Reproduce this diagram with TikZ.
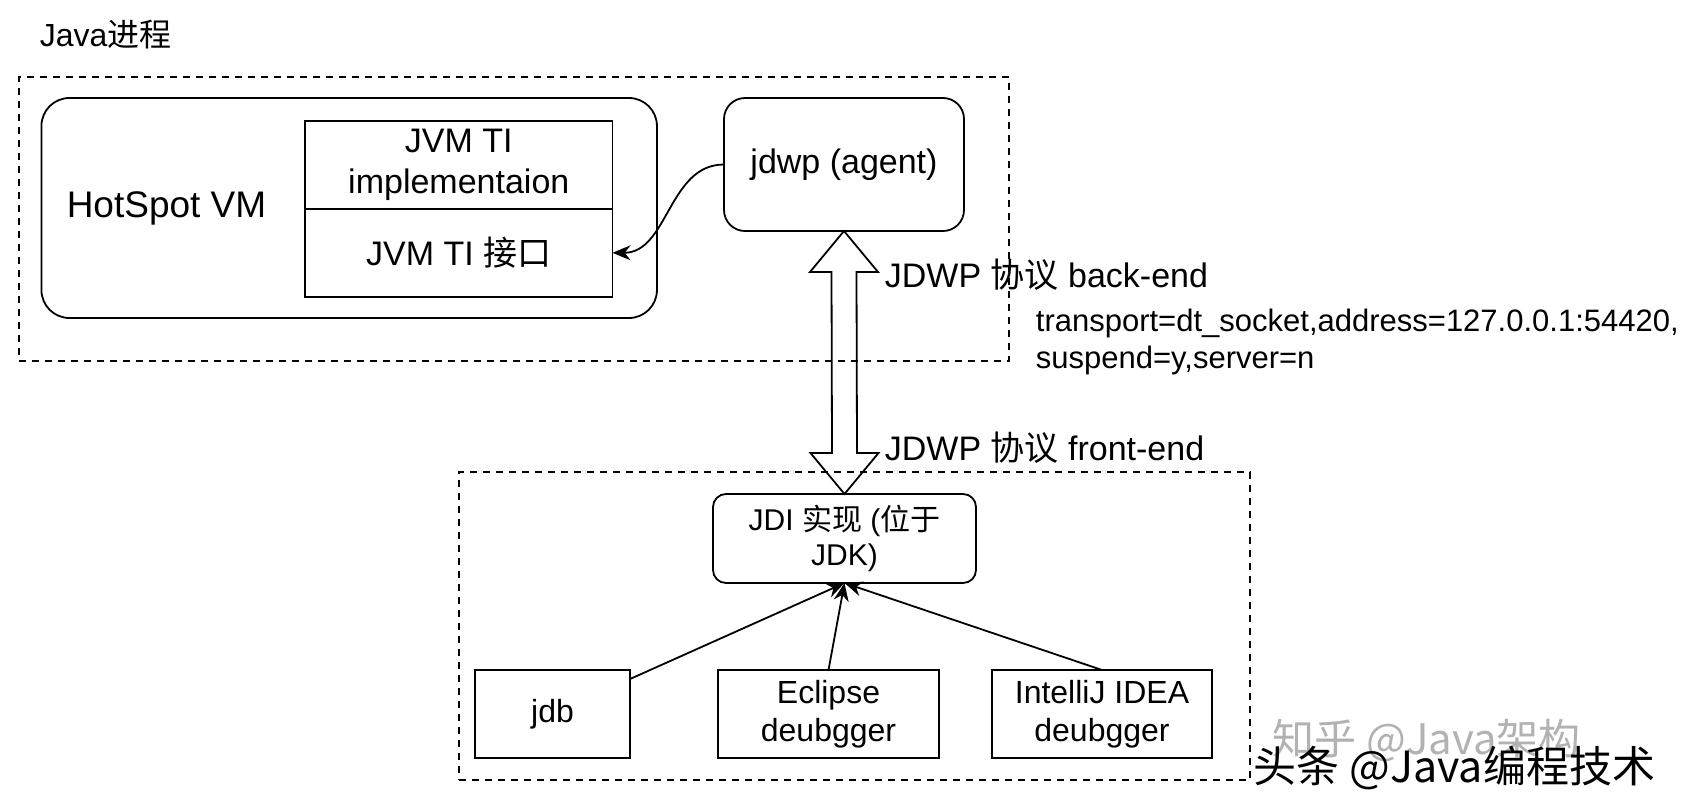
\documentclass[tikz,border=0pt]{standalone}
\usepackage{fontspec}
\setmainfont{Liberation Sans}
\newfontfamily\cjk{Noto Sans CJK SC}
\usepackage{tikz}
\usetikzlibrary{positioning,arrows.meta}

\tikzset{
  frame/.style={draw, dash pattern=on 3.5pt off 3pt, line width=0.9pt},
  box/.style={draw, shape=rectangle, line width=0.9pt, inner sep=0pt, outer sep=0pt, align=center, font=\fontsize{17}{20.5}\selectfont},
  small/.style={font=\fontsize{16}{19}\selectfont},
  lbl/.style={inner sep=0pt, anchor=west, font=\fontsize{17}{20.5}\selectfont},
}

\begin{document}
\begin{tikzpicture}[x=1pt, y=-1pt, >={Stealth[length=9pt,width=7.5pt]}, line width=0.9pt]
\useasboundingbox (0,0) rectangle (843.5,404.5);
% java process
\node[lbl, font=\fontsize{16}{19}\selectfont] (title) at (19.5,17.5) {Java{\cjk 进程}};
\node[frame, minimum width=495pt, minimum height=142pt] (proc) at (257,109.5) {};
\node[box, rounded corners=14pt, minimum width=307.75pt, minimum height=110pt] (hs) at (174.6,104) {};
\node[font=\fontsize{18.5}{22}\selectfont] (hstxt) at (83.25,104) {HotSpot VM};
\node[box, minimum width=153.75pt, minimum height=44.15pt] (impl) at (229.4,82.4) {JVM TI\\implementaion};
\node[box, minimum width=153.75pt, minimum height=43.85pt, below=0pt of impl] (iface) {JVM TI {\cjk 接口}};
\node[box, rounded corners=10.5pt, minimum width=120pt, minimum height=66.5pt] (jdwp) at (422,82.25) {jdwp (agent)};
% debugger side
\node[frame, minimum width=395.5pt, minimum height=154pt] (dbg) at (427.25,313) {};
\node[box, rounded corners=6.5pt, minimum width=131.5pt, minimum height=44.5pt, font=\fontsize{15}{17.5}\selectfont] (jdi) at (422.25,269.25) {JDI {\cjk 实现} ({\cjk 位于}\\JDK)};
\node[box, small, minimum width=77.5pt, minimum height=44pt] (jdb) at (276.25,357) {jdb};
\node[box, small, minimum width=110.5pt, minimum height=44pt] (ecl) at (414.25,357) {Eclipse\\deubgger};
\node[box, small, minimum width=110pt, minimum height=44pt] (idea) at (551,357) {IntelliJ IDEA\\deubgger};
% labels
\node[lbl] (back) at (442,137.5) {JDWP {\cjk 协议} back-end};
\node[lbl] (front) at (442,224) {JDWP {\cjk 协议} front-end};
\node[lbl, align=left, font=\fontsize{15.5}{18.5}\selectfont] (opts) at (517.5,171) {transport=dt\_socket,address=127.0.0.1:54420,\\suspend=y,server=n};
% watermarks
\node[lbl, text=black!30, font={\cjk\fontsize{21}{24}\selectfont}] (wm1) at (636,370) {知乎 @Java架构};
\node[lbl, font={\cjk\fontsize{21.5}{24}\selectfont}] (wm2) at (626.5,384) {头条 @Java编程技术};
% connectors
\draw[->] (jdwp.west) to[out=180,in=0] (iface.east);
\draw (jdwp.south) -- ++(17,20.5) -- ++(-10.75,0) -- ([xshift=6.25pt,yshift=20.5pt]jdi.north) -- ++(10.75,0) -- (jdi.north) -- ++(-17,-20.5) -- ++(10.75,0) -- ([xshift=-6.25pt,yshift=-20.5pt]jdwp.south) -- ++(-10.75,0) -- cycle;
\draw[->] ([yshift=-4.5pt]jdb.north east) -- (jdi.south);
\draw[->] (ecl.north) -- (jdi.south);
\draw[->] (idea.north) -- (jdi.south);
\end{tikzpicture}
\end{document}
